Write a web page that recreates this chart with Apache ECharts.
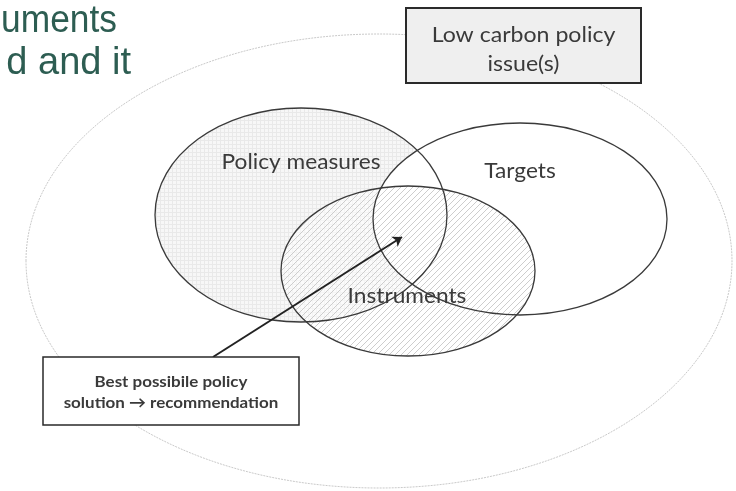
<!DOCTYPE html>
<html>
<head>
<meta charset="utf-8">
<script src="https://cdn.jsdelivr.net/npm/echarts@6/dist/echarts.min.js"></script>
<style>
  html, body { margin: 0; padding: 0; background: #fff; }
  #chart { width: 736px; height: 491px; }
</style>
</head>
<body>
<div id="chart"></div>
<script>
// ellipses: outer issue area + the three policy sets (page coords)
var setNames = ['Issue', 'Policy measures', 'Targets', 'Instruments'];
var setCx = [379, 301, 520, 408];
var setCy = [261, 215, 219, 271];
var setRx = [353, 146, 147, 127];
var setRy = [227, 107, 96, 85];

var labelText = ['Policy measures', 'Targets', 'Instruments'];
var labelX = [301, 520, 407];
var labelY = [162, 171, 296];

// text boxes
var boxText = ['Low carbon policy\nissue(s)', 'Best possibile policy\nsolution \u2192 recommendation'];
var boxX0 = [406, 43];
var boxY0 = [8, 357];
var boxX1 = [641, 299];
var boxY1 = [83, 425];

var arrowFrom = [213, 357];
var arrowTo = [402, 237];

var headLines = ['uments', 'd and it'];

// small canvas patterns for the fills
function gridPattern() {
  var c = document.createElement('canvas');
  c.width = 4; c.height = 4;
  var g = c.getContext('2d');
  g.fillStyle = '#f7f7f7';
  g.fillRect(0, 0, 4, 4);
  g.fillStyle = '#e9e9e9';
  g.fillRect(0, 0, 4, 1);
  g.fillRect(0, 0, 1, 4);
  return c;
}
function hatchPattern() {
  var c = document.createElement('canvas');
  c.width = 6; c.height = 6;
  var g = c.getContext('2d');
  g.fillStyle = 'rgba(255,255,255,0.5)';
  g.fillRect(0, 0, 6, 6);
  g.strokeStyle = '#cdcdcd';
  g.lineWidth = 1;
  g.beginPath();
  g.moveTo(0, 6); g.lineTo(6, 0);
  g.moveTo(-1, 1); g.lineTo(1, -1);
  g.moveTo(5, 7); g.lineTo(7, 5);
  g.stroke();
  return c;
}

var fills = [
  '#ffffff',
  { image: gridPattern(), repeat: 'repeat' },
  '#ffffff',
  { image: hatchPattern(), repeat: 'repeat' }
];

var setData = setNames.map(function (n, i) {
  return [setCx[i], setCy[i], setRx[i], setRy[i], i];
});

function ellipseItem(strokeOnly) {
  return function (params, api) {
    var i = api.value(4);
    var c = api.coord([api.value(0), api.value(1)]);
    var s = api.size([api.value(2), api.value(3)]);
    var style;
    if (i === 0) {
      style = strokeOnly ? { fill: null, stroke: '#c9c9c9', lineWidth: 1, lineDash: [2, 1] }
                         : { fill: '#ffffff', stroke: null };
    } else {
      style = strokeOnly ? { fill: null, stroke: '#3a3a3a', lineWidth: 1.3 }
                         : { fill: fills[i], stroke: null };
    }
    return { type: 'ellipse', shape: { cx: c[0], cy: c[1], rx: s[0], ry: s[1] }, style: style };
  };
}

var headFont = '38px "Liberation Sans", Arial, sans-serif';

var myChart = echarts.init(document.getElementById('chart'));
myChart.setOption({
  animation: false,
  grid: { left: 0, right: 0, top: 0, bottom: 0 },
  xAxis: { type: 'value', min: 0, max: 736, show: false },
  yAxis: { type: 'value', min: 0, max: 491, inverse: true, show: false },
  graphic: [
    {
      type: 'text', x: 117, y: 41, scaleX: 0.93,
      style: { text: headLines[0], font: headFont, fill: '#2d5d52', align: 'right', verticalAlign: 'bottom' }
    },
    {
      type: 'text', x: 131, y: 83,
      style: { text: headLines[1], font: headFont, fill: '#2d5d52', align: 'right', verticalAlign: 'bottom' }
    }
  ],
  series: [
    {
      type: 'custom', silent: true, clip: false,
      data: setData,
      renderItem: ellipseItem(false)
    },
    {
      type: 'custom', silent: true, clip: false,
      data: setData,
      renderItem: ellipseItem(true)
    },
    {
      type: 'lines', coordinateSystem: 'cartesian2d', silent: true,
      symbol: ['none', 'arrow'], symbolSize: 9,
      lineStyle: { color: '#222', width: 2, opacity: 1 },
      data: [{ coords: [arrowFrom, arrowTo] }]
    },
    {
      type: 'custom', silent: true, clip: false,
      data: boxText.map(function (t, i) { return [boxX0[i], boxY0[i], boxX1[i], boxY1[i], i]; }),
      renderItem: function (params, api) {
        var i = api.value(4);
        var p0 = api.coord([api.value(0), api.value(1)]);
        var p1 = api.coord([api.value(2), api.value(3)]);
        var big = i === 0;
        return {
          type: 'group',
          children: [
            {
              type: 'rect',
              shape: { x: p0[0], y: p0[1], width: p1[0] - p0[0], height: p1[1] - p0[1] },
              style: { fill: big ? '#efefef' : '#ffffff', stroke: '#2a2a2a', lineWidth: big ? 2 : 1.5 }
            },
            {
              type: 'text',
              x: (p0[0] + p1[0]) / 2, y: (p0[1] + p1[1]) / 2 + (big ? 4 : 1),
              scaleX: big ? 1.1 : 1.06,
              style: {
                text: boxText[i], align: 'center', verticalAlign: 'middle',
                font: big ? '21px Lato, "Open Sans", sans-serif' : 'bold 16px Lato, "Open Sans", sans-serif',
                lineHeight: big ? 29 : 21, fill: '#3a3a3a'
              }
            }
          ]
        };
      }
    },
    {
      type: 'custom', silent: true, clip: false,
      data: labelText.map(function (t, i) { return [labelX[i], labelY[i], i]; }),
      renderItem: function (params, api) {
        var i = api.value(2);
        var p = api.coord([api.value(0), api.value(1)]);
        return {
          type: 'text', x: p[0], y: p[1], scaleX: 1.08,
          style: { text: labelText[i], align: 'center', verticalAlign: 'middle',
                   font: '21px Lato, "Open Sans", sans-serif', fill: '#3a3a3a' }
        };
      }
    }
  ]
});
</script>
</body>
</html>
